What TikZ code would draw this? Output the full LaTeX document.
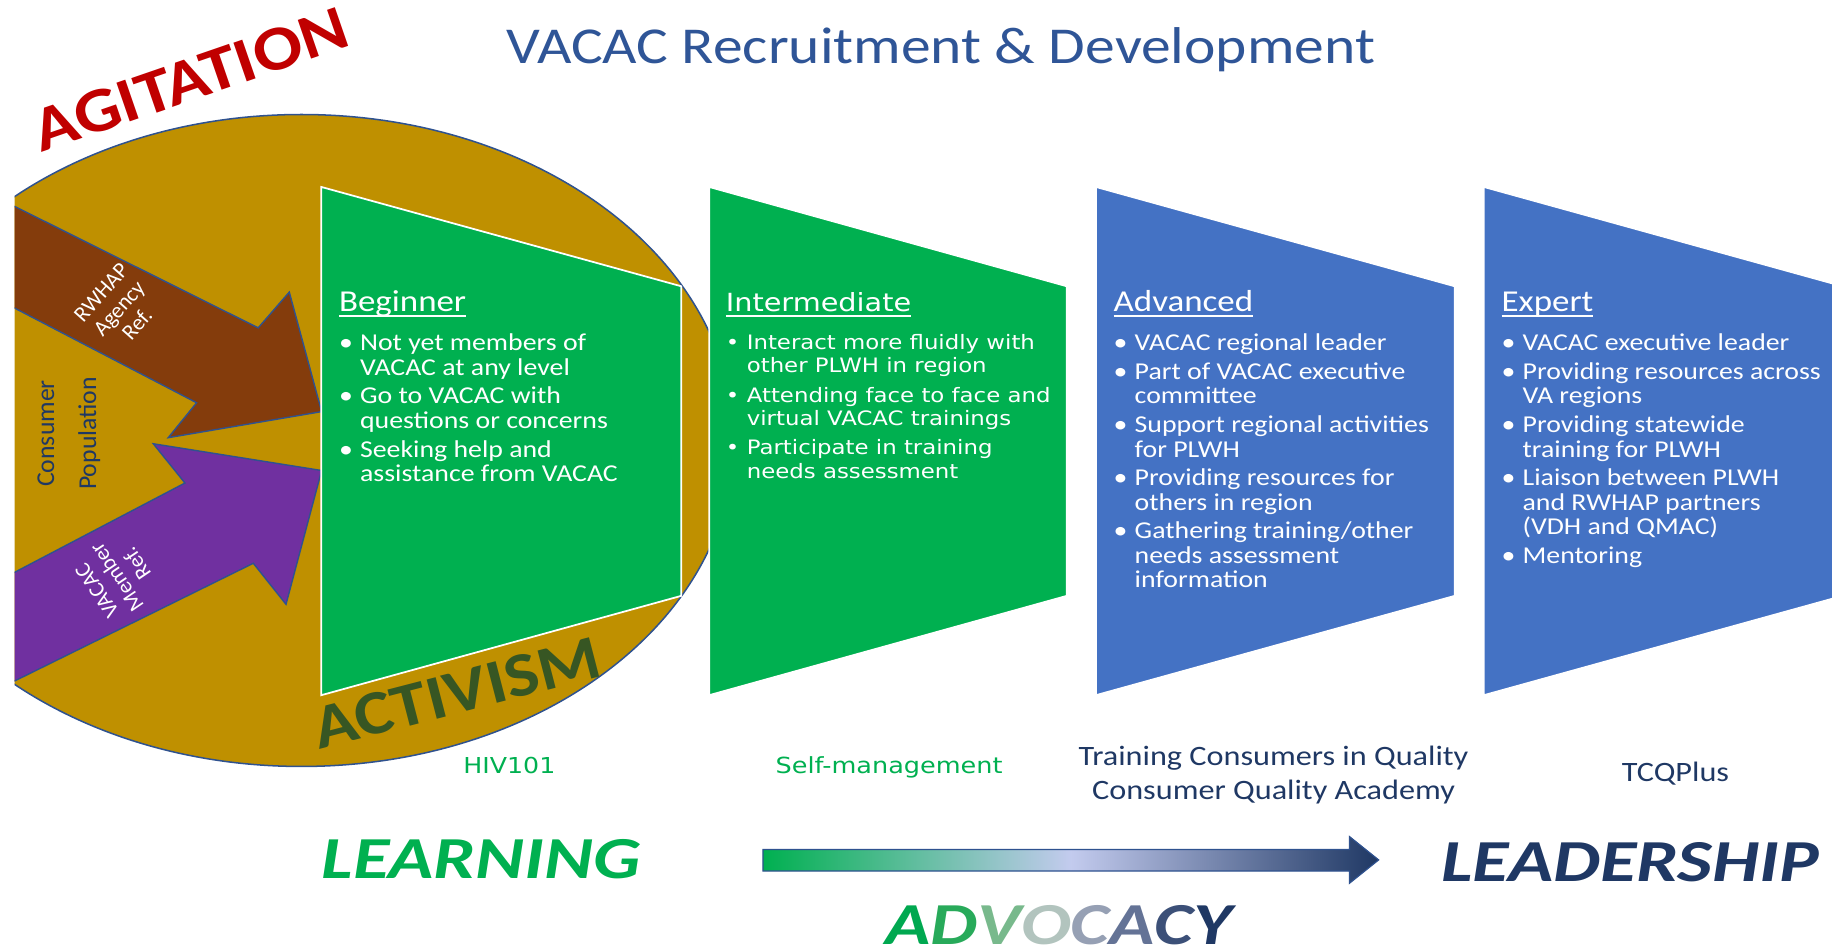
\documentclass[tikz,border=0pt]{standalone}
\usepackage{fontspec}
\setmainfont{Carlito}[FakeStretch=1.15]
\newfontfamily\interfont{DejaVu Sans}[FakeStretch=1.15]
\newfontfamily\plainfont{Carlito}
\newfontfamily\wordfont{Carlito}[FakeStretch=1.25]

\definecolor{circgold}{HTML}{BF9000}
\definecolor{edgeblue}{HTML}{2F528F}
\definecolor{stagegreen}{HTML}{00B050}
\definecolor{stageblue}{HTML}{4472C4}
\definecolor{refbrown}{HTML}{843C0C}
\definecolor{refpurple}{HTML}{7030A0}
\definecolor{agitred}{HTML}{C00000}
\definecolor{activgreen}{HTML}{375623}
\definecolor{leadnavy}{HTML}{1F3864}
\definecolor{titleblue}{HTML}{2F5597}
\definecolor{midlilac}{HTML}{C3CBEE}
\definecolor{advA}{RGB}{0,168,80}
\definecolor{advB}{RGB}{40,170,90}
\definecolor{advC}{RGB}{120,185,140}
\definecolor{advD}{RGB}{178,196,190}
\definecolor{advE}{RGB}{150,160,180}
\definecolor{advF}{RGB}{100,115,150}
\definecolor{advG}{RGB}{60,80,120}
\definecolor{advH}{RGB}{31,56,100}

\def \paneltop {160}
\def \panelbot {595}
\def \tiptop {245}
\def \tipbot {510}

\def\stbul{\makebox[18pt][l]{\textbullet}}
\def\stind{\hspace*{18pt}}
\newcommand\headul[1]{\setbox0\hbox{#1}\rlap{\rule[-4pt]{\wd0}{1.6pt}}\box0}

\tikzset{
  stage/.style={draw=white, line width=1.5pt},
  stagehead/.style={anchor=base west, inner sep=0, text=white, font=\fontsize{26}{30}\selectfont},
  stagelist/.style={anchor=north west, inner sep=0, align=left, text=white, font=\fontsize{20.7}{21}\selectfont},
  refarrow/.style={draw=edgeblue, line width=1.2pt},
  reflabel/.style={text=white, align=center, inner sep=0, font=\plainfont\fontsize{19}{20.5}\selectfont},
  levellabel/.style={inner sep=0, font=\fontsize{24}{29}\selectfont},
  bigword/.style={inner sep=0, font=\wordfont\bfseries\itshape\fontsize{51}{60}\selectfont},
}

\begin{document}
\begin{tikzpicture}[x=1pt, y=-1pt]
\useasboundingbox (0,0) rectangle (1568,814);

% title
\node[anchor=base, inner sep=0, text=titleblue, font=\fontsize{44.3}{50}\selectfont] (title) at (805,54) {VACAC Recruitment \& Development};

% consumer circle and referral arrows
\begin{scope}
\clip (12.5,0) rectangle (700,814);
\draw[draw=edgeblue, line width=1.3pt, fill=circgold] (258,377) ellipse [x radius=370, y radius=279];
\draw[refarrow, fill=refbrown] (0,170.4) -- (221,280.6) -- (247.6,250) -- (275.3,352.3) -- (144,374.6) -- (168.3,344.7) -- (0,257.2) -- cycle;
\draw[refarrow, fill=refpurple] (0,496.4) -- (158.3,413.4) -- (131.2,379.8) -- (275.3,402.7) -- (244.8,517.2) -- (216.8,482.1) -- (0,589) -- cycle;
\end{scope}
\node[reflabel, rotate=48.5] (agencyref) at (102,264) {RWHAP\\Agency\\Ref.};
\node[reflabel, rotate=124] (memberref) at (100,494) {VACAC\\Member\\Ref.};
\node[align=center, inner sep=0, text=leadnavy, font=\plainfont\fontsize{22}{36}\selectfont, rotate=90] (population) at (59,371) {Consumer\\Population};

\node[inner sep=0, text=agitred, font=\bfseries\fontsize{54}{60}\selectfont, rotate=19] (agitation) at (163,68) {AGITATION};

% beginner
\draw[stage, fill=stagegreen] (275,\paneltop) -- (583,\tiptop) -- (583,\tipbot) -- (275,\panelbot) -- cycle;
\node[stagehead] (beghead) at (290,267) {\headul{Beginner}};
\node[stagelist] (beglist) at (290,283) {\rule{0pt}{17pt}\stbul Not yet members of\\ \stind VACAC at any level\\[3.5pt]
\stbul Go to VACAC with\\ \stind questions or concerns\\[3.5pt]
\stbul Seeking help and\\ \stind assistance from VACAC};

\node[inner sep=0, text=activgreen, font=\bfseries\fontsize{53.5}{58}\selectfont, rotate=14.5] (activism) at (391,593) {ACTIVISM};

% intermediate
\draw[stage, fill=stagegreen] (607,\paneltop) -- (913,\tiptop) -- (913,\tipbot) -- (607,\panelbot) -- cycle;
\node[stagehead, font=\interfont\fontsize{21.4}{26}\selectfont] (inthead) at (621,267) {\headul{Intermediate}};
\node[stagelist, font=\interfont\fontsize{17}{20}\selectfont] (intlist) at (621,282) {\rule{0pt}{17pt}\stbul Interact more fluidly with\\ \stind other PLWH in region\\[5pt]
\stbul Attending face to face and\\ \stind virtual VACAC trainings\\[5pt]
\stbul Participate in training\\ \stind needs assessment};

% advanced
\draw[stage, fill=stageblue] (938,\paneltop) -- (1245,\tiptop) -- (1245,\tipbot) -- (938,\panelbot) -- cycle;
\node[stagehead] (advhead) at (953,267) {\headul{Advanced}};
\node[stagelist] (advlist) at (953,283) {\rule{0pt}{17pt}\stbul VACAC regional leader\\[3.5pt]
\stbul Part of VACAC executive\\ \stind committee\\[3.5pt]
\stbul Support regional activities\\ \stind for PLWH\\[3.5pt]
\stbul Providing resources for\\ \stind others in region\\[3.5pt]
\stbul Gathering training/other\\ \stind needs assessment\\ \stind information};

% expert
\draw[stage, fill=stageblue] (1270,\paneltop) -- (1577,\tiptop) -- (1577,\tipbot) -- (1270,\panelbot) -- cycle;
\node[stagehead] (exphead) at (1285,267) {\headul{Expert}};
\node[stagelist] (explist) at (1285,283) {\rule{0pt}{17pt}\stbul VACAC executive leader\\[3.5pt]
\stbul Providing resources across\\ \stind VA regions\\[3.5pt]
\stbul Providing statewide\\ \stind training for PLWH\\[3.5pt]
\stbul Liaison between PLWH\\ \stind and RWHAP partners\\ \stind (VDH and QMAC)\\[3.5pt]
\stbul Mentoring};

% programs under each level
\node[levellabel, anchor=base, text=stagegreen, font=\interfont\fontsize{18.8}{24}\selectfont] (hiv) at (436,662) {HIV101};
\node[levellabel, anchor=base, text=stagegreen, font=\interfont\fontsize{19}{24}\selectfont] (selfman) at (761,662) {Self-management};
\node[levellabel, align=center, text=leadnavy] (tcq) at (1090,663) {Training Consumers in Quality\\Consumer Quality Academy};
\node[levellabel, anchor=base, text=leadnavy] (tcqplus) at (1434,669) {TCQPlus};

% learning to leadership
\node[bigword, text=stagegreen] (learning) at (412,735) {LEARNING};
\draw[draw=edgeblue, line width=1pt, left color=stagegreen, right color=leadnavy, middle color=midlilac] (653,727) -- (1155,727) -- (1155,716) -- (1180,736) -- (1155,756) -- (1155,745.5) -- (653,745.5) -- cycle;
\node[bigword, text=leadnavy] (leadership) at (1395,738) {LEADERSHIP};
\node[bigword] (advocacy) at (906,792) {\textcolor{advA}{A}\textcolor{advB}{D}\textcolor{advC}{V}\textcolor{advD}{O}\textcolor{advE}{C}\textcolor{advF}{A}\textcolor{advG}{C}\textcolor{advH}{Y}};
\end{tikzpicture}
\end{document}
